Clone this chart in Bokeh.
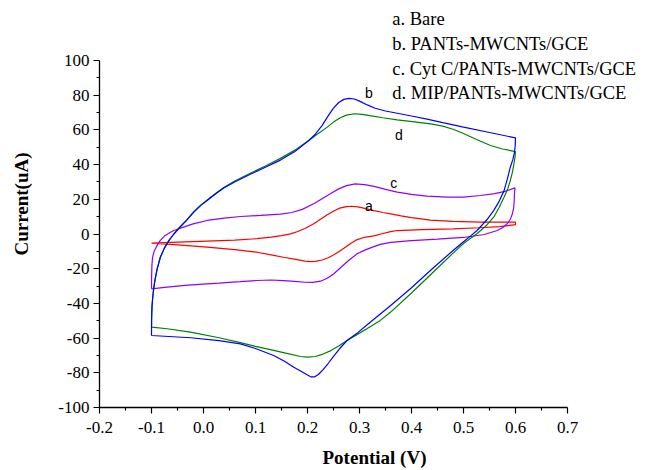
from bokeh.plotting import figure
from bokeh.models import Range1d, FixedTicker, Label
from bokeh.embed import file_html
from bokeh.resources import INLINE

# ---- data (potential in V, current in uA), each curve one closed CV loop ----
bare_v = [-0.1, -0.05, 0.007, 0.06, 0.103, 0.13, 0.15, 0.167, 0.18, 0.195, 0.212, 0.225, 0.238, 0.2506, 0.262, 0.275,
          0.285, 0.297, 0.31, 0.3275, 0.345, 0.36, 0.38, 0.40, 0.4365, 0.48, 0.533, 0.6,
          0.6, 0.57, 0.53, 0.48, 0.42, 0.3725, 0.36, 0.345, 0.33, 0.31, 0.2955, 0.283, 0.27, 0.26, 0.2506, 0.24,
          0.228, 0.215, 0.2058, 0.195, 0.18, 0.154, 0.13, 0.103, 0.06, 0.007, -0.05, -0.1]
bare_i = [-5.3, -4.7, -4.1, -3.5, -2.7, -1.8, -0.9, 0.1, 1.3, 3.2, 5.9, 8.5, 11.1, 13.3, 14.9, 15.8,
          16.0, 15.6, 14.8, 13.5, 12.4, 11.6, 10.4, 9.4, 8.0, 7.3, 6.9, 6.8,
          5.4, 4.3, 3.6, 3.0, 2.5, 2.0, 1.4, 0.3, -0.9, -1.9, -3.2, -5.5, -8.2, -10.2, -12.0, -13.7,
          -15.0, -15.8, -15.9, -15.6, -14.8, -13.4, -12.0, -10.5, -9.0, -7.6, -6.3, -5.3]

pants_v = [-0.1, -0.0998, -0.099, -0.0975, -0.0956, -0.093, -0.089, -0.083, -0.075, -0.066, -0.057, -0.045, -0.032,
           -0.019, -0.005, 0.007, 0.025, 0.039, 0.06, 0.09, 0.12, 0.148, 0.175, 0.2025, 0.215, 0.228, 0.24, 0.25,
           0.26, 0.27, 0.28, 0.29, 0.30, 0.315, 0.33, 0.35, 0.3725, 0.40, 0.43, 0.46, 0.5, 0.55, 0.6,
           0.5995, 0.598, 0.595, 0.59, 0.585, 0.578, 0.568, 0.558, 0.545, 0.526, 0.515, 0.5, 0.48, 0.44, 0.40, 0.36,
           0.32, 0.296, 0.276, 0.262, 0.25, 0.24, 0.23, 0.221, 0.214, 0.207, 0.2, 0.19, 0.1737, 0.155, 0.135, 0.1,
           0.071, 0.03, -0.025, -0.1]
pants_i = [-58.5, -50.0, -42.0, -36.0, -31.0, -26.0, -20.0, -13.4, -8.0, -3.5, 0.0, 4.0, 8.0,
           12.5, 16.5, 19.3, 23.5, 26.5, 30.0, 34.4, 38.6, 42.6, 47.4, 53.9, 57.5, 62.5, 68.2, 72.5,
           75.8, 77.6, 78.2, 77.8, 76.6, 74.4, 72.5, 70.9, 69.6, 68.0, 66.2, 64.2, 61.6, 58.5, 55.4,
           51.0, 47.0, 43.0, 38.5, 32.5, 25.0, 18.5, 13.5, 8.2, 2.0, -0.8, -4.5, -9.5, -20.0, -31.0, -41.2,
           -51.0, -57.0, -61.4, -66.0, -70.5, -74.5, -78.2, -81.0, -82.3, -82.4, -81.3, -79.5, -76.8, -73.2, -70.0, -66.0,
           -63.3, -61.5, -59.8, -58.5]

cytc_v = [-0.1, -0.0998, -0.0992, -0.098, -0.095, -0.09, -0.083, -0.075, -0.065, -0.057, -0.04, -0.02, 0.007, 0.04,
          0.071, 0.11, 0.148, 0.17, 0.19, 0.212, 0.228, 0.244, 0.26, 0.275, 0.292, 0.31, 0.33, 0.35, 0.3725, 0.40,
          0.43, 0.4685, 0.5, 0.533, 0.56, 0.58, 0.599,
          0.598, 0.5975, 0.5965, 0.594, 0.59, 0.584, 0.575, 0.565, 0.54, 0.5, 0.45, 0.40, 0.36, 0.34, 0.325, 0.31,
          0.2955, 0.28, 0.265, 0.2506, 0.238, 0.225, 0.21, 0.195, 0.175, 0.154, 0.13, 0.103, 0.07, 0.03, 0.007,
          -0.03, -0.07, -0.1]
cytc_i = [-31.6, -25.0, -18.0, -13.5, -10.0, -7.0, -3.7, -1.2, 0.7, 2.0, 3.8, 5.8, 7.8, 9.2,
          10.1, 10.7, 11.5, 12.4, 14.2, 17.4, 20.3, 23.2, 26.0, 27.9, 28.9, 28.5, 27.3, 25.7, 24.1, 22.8,
          21.8, 21.2, 21.3, 22.2, 23.3, 24.6, 26.6,
          23.2, 19.0, 15.0, 11.6, 8.5, 5.9, 3.6, 2.0, -0.3, -2.0, -3.0, -3.8, -4.8, -6.0, -7.6, -9.3,
          -11.4, -15.0, -19.0, -22.9, -25.5, -27.2, -27.9, -27.8, -27.3, -26.9, -26.5, -26.8, -27.5, -28.3, -28.7,
          -29.5, -30.6, -31.6]

mip_v = [-0.1, -0.0998, -0.099, -0.0975, -0.0956, -0.093, -0.089, -0.083, -0.075, -0.066, -0.057, -0.045, -0.032,
         -0.019, -0.005, 0.007, 0.025, 0.039, 0.06, 0.09, 0.12, 0.148, 0.175, 0.2025, 0.22, 0.238, 0.25, 0.263,
         0.275, 0.29, 0.305, 0.32, 0.345, 0.3725, 0.41, 0.44, 0.46, 0.48, 0.5, 0.525, 0.552, 0.575, 0.6,
         0.599, 0.597, 0.594, 0.59, 0.585, 0.578, 0.568, 0.558, 0.545, 0.533, 0.525, 0.5, 0.48, 0.44, 0.40, 0.36,
         0.34, 0.315, 0.295, 0.276, 0.26, 0.245, 0.23, 0.215, 0.2, 0.1865, 0.16, 0.135, 0.1, 0.071, 0.03, -0.025,
         -0.07, -0.1]
mip_i = [-53.7, -47.0, -41.0, -36.0, -31.0, -26.0, -20.0, -13.4, -8.0, -3.5, 0.0, 4.2, 8.3,
         12.8, 16.8, 19.6, 23.8, 26.8, 30.5, 35.0, 39.3, 43.6, 48.2, 53.9, 57.8, 61.6, 64.5, 67.0,
         68.5, 69.3, 69.0, 68.2, 67.0, 65.8, 64.5, 63.3, 62.2, 60.4, 57.9, 54.5, 51.0, 49.0, 47.5,
         44.0, 40.5, 35.5, 30.8, 26.0, 21.2, 15.0, 9.7, 5.2, 2.0, 0.0, -5.5, -11.0, -22.5, -34.0, -45.0,
         -49.8, -54.5, -58.0, -61.4, -64.6, -67.2, -69.2, -70.6, -71.0, -70.6, -68.8, -67.1, -64.8, -62.6, -59.8, -56.6,
         -54.6, -53.7]

legend_texts = ["a. Bare", "b. PANTs-MWCNTs/GCE", "c. Cyt C/PANTs-MWCNTs/GCE", "d. MIP/PANTs-MWCNTs/GCE"]
curve_letters = ["a", "b", "c", "d"]

x_ticks = [-0.2, -0.1, 0.0, 0.1, 0.2, 0.3, 0.4, 0.5, 0.6, 0.7]
x_tick_labels = ["-0.2", "-0.1", "0.0", "0.1", "0.2", "0.3", "0.4", "0.5", "0.6", "0.7"]
x_minor = [-0.15, -0.05, 0.05, 0.15, 0.25, 0.35, 0.45, 0.55, 0.65]
y_ticks = [-100, -80, -60, -40, -20, 0, 20, 40, 60, 80, 100]
y_tick_labels = ["-100", "-80", "-60", "-40", "-20", "0", "20", "40", "60", "80", "100"]
y_minor = [-90, -70, -50, -30, -10, 10, 30, 50, 70, 90]

SERIF = "Liberation Serif"
SANS = "Liberation Sans"

W, H = 649, 470
LEFT, BOTTOM = 99, 63          # frame left / bottom border in px
X_PER_PX = 0.1 / 52.0          # V per pixel
Y_PER_PX = 20.0 / 34.7         # uA per pixel
x_end = x_ticks[0] + (W - LEFT) * X_PER_PX
y_end = y_ticks[0] + (H - BOTTOM) * Y_PER_PX

p = figure(width=W, height=H, x_range=Range1d(x_ticks[0], x_end), y_range=Range1d(y_ticks[0], y_end),
           output_backend="svg", toolbar_location=None,
           min_border_left=LEFT, min_border_right=0, min_border_top=0, min_border_bottom=BOTTOM)
p.outline_line_color = None
p.xgrid.visible = False
p.ygrid.visible = False
p.background_fill_color = "white"
p.border_fill_color = "white"

for ax in (p.xaxis[0], p.yaxis[0]):
    ax.axis_line_color = "black"
    ax.axis_line_width = 1.3
    ax.major_tick_line_color = "black"
    ax.minor_tick_line_color = "black"
    ax.major_tick_line_width = 1.2
    ax.minor_tick_line_width = 1.2
    ax.major_tick_in = 0
    ax.major_tick_out = 6
    ax.minor_tick_in = 0
    ax.minor_tick_out = 3
    ax.major_label_text_font = SERIF
    ax.major_label_text_font_size = "17px"
    ax.major_label_text_color = "black"
    ax.axis_label_text_font = SERIF
    ax.axis_label_text_font_size = "19px"
    ax.axis_label_text_font_style = "bold"
    ax.axis_label_text_color = "black"

p.xaxis[0].bounds = (x_ticks[0], x_ticks[-1])
p.xaxis[0].ticker = FixedTicker(ticks=x_ticks, minor_ticks=x_minor)
p.xaxis[0].major_label_overrides = dict(zip(x_ticks, x_tick_labels))
p.xaxis[0].major_label_standoff = 8
p.xaxis[0].axis_label = "Potential (V)"
p.xaxis[0].axis_label_standoff = 11

p.yaxis[0].bounds = (y_ticks[0], y_ticks[-1])
p.yaxis[0].ticker = FixedTicker(ticks=y_ticks, minor_ticks=y_minor)
p.yaxis[0].major_label_overrides = dict(zip(y_ticks, y_tick_labels))
p.yaxis[0].major_label_standoff = 4
p.yaxis[0].axis_label = "Current(uA)"
p.yaxis[0].axis_label_standoff = 23

p.line(bare_v, bare_i, line_color="#FF0000", line_width=1.2)
p.line(cytc_v, cytc_i, line_color="#8F00FF", line_width=1.2)
p.line(mip_v, mip_i, line_color="#008000", line_width=1.2)
p.line(pants_v, pants_i, line_color="#0000FF", line_width=1.2)

# curve letters
letter_pos = [(0.318, 16.4), (0.318, 81.2), (0.366, 29.3), (0.3756, 56.8)]
for t, (lx, ly) in zip(curve_letters, letter_pos):
    p.add_layout(Label(x=lx, y=ly, text=t, text_font=SANS, text_font_size="14px",
                       text_align="center", text_baseline="middle", text_color="black"))

# legend block (text only)
leg_y = [124.0, 109.6, 95.2, 81.1]
for t, ly in zip(legend_texts, leg_y):
    p.add_layout(Label(x=0.3629, y=ly, text=t, text_font=SERIF, text_font_size="18.5px",
                       text_align="left", text_baseline="middle", text_color="black"))

open("out.html", "w").write(file_html(p, INLINE))
